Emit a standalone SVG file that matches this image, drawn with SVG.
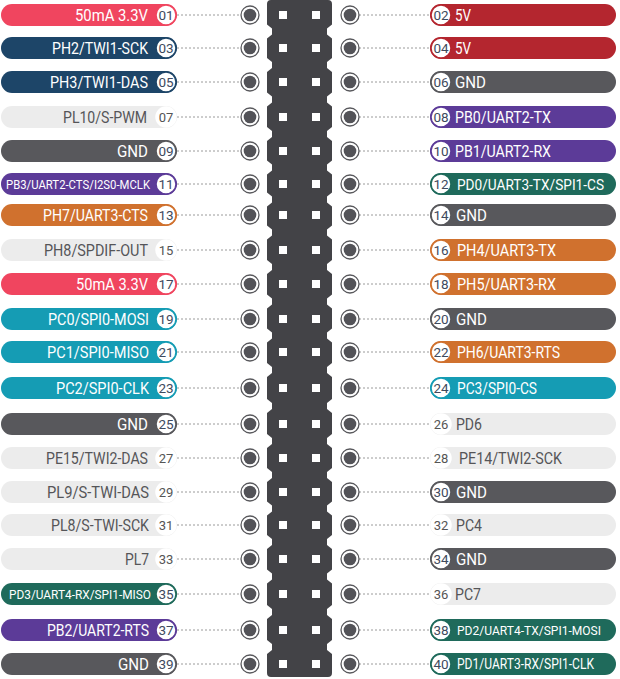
<svg xmlns="http://www.w3.org/2000/svg" width="620" height="679" viewBox="0 0 620 679">
<style>
.bg{fill:#ffffff}
.pill{stroke:none}
.pk{fill:#f0455f}.nv{fill:#1d4568}.lg{fill:#ececec}.dg{fill:#58585c}.pu{fill:#5c3b98}.or{fill:#d0712e}.te{fill:#159cb4}.gr{fill:#1f6a5b}.rd{fill:#b4262f}
.num{fill:#ffffff;stroke-width:1.5}
.spk{stroke:#f0455f}.snv{stroke:#1d4568}.slg{stroke:#ffffff}.sdg{stroke:#58585c}.spu{stroke:#5c3b98}.sor{stroke:#d0712e}.ste{stroke:#159cb4}.sgr{stroke:#1f6a5b}.srd{stroke:#b4262f}
.nt{font-family:Roboto,"Liberation Sans",sans-serif;font-size:13.5px;fill:#3e4a5e;text-anchor:middle}
.ntl{font-family:Roboto,"Liberation Sans",sans-serif;font-size:13px;fill:#555555;text-anchor:middle}
.lbl{font-family:Roboto,"Liberation Sans",sans-serif;font-size:16px;fill:#ffffff}
.sm{font-size:12.5px}
.dk{fill:#555558}
.l{text-anchor:end}
.r{text-anchor:start}
.po{fill:#ffffff;stroke:#58585c;stroke-width:1.3}
.pi{fill:#535358}
.hdr{fill:#434347}
.sq{fill:#ffffff}
.cn{stroke:#9a9a9a;stroke-width:1;stroke-dasharray:2 2;fill:none}
</style>
<rect class="bg" x="0" y="0" width="620" height="679"/>

<g id="header">
<path class="hdr" d="M271 0 H328 Q332 0 332 4
L332 24.5 L327 28.5 L327 34.5 L332 38.5
L332 58 L327 62 L327 68 L332 72
L332 92.5 L327 96.5 L327 102.5 L332 106.5
L332 127 L327 131 L327 137 L332 141
L332 160.5 L327 164.5 L327 170.5 L332 174.5
L332 192.5 L327 196.5 L327 202.5 L332 206.5
L332 225.5 L327 229.5 L327 235.5 L332 239.5
L332 260 L327 264 L327 270 L332 274
L332 294.5 L327 298.5 L327 304.5 L332 308.5
L332 328.5 L327 332.5 L327 338.5 L332 342.5
L332 363 L327 367 L327 373 L332 377
L332 399 L327 403 L327 409 L332 413
L332 434 L327 438 L327 444 L332 448
L332 468 L327 472 L327 478 L332 482
L332 501.5 L327 505.5 L327 511.5 L332 515.5
L332 535 L327 539 L327 545 L332 549
L332 569.5 L327 573.5 L327 579.5 L332 583.5
L332 605 L327 609 L327 615 L332 619
L332 640 L327 644 L327 650 L332 654
L332 673 Q332 677 328 677 H271 Q267 677 267 673
L267 654 L272 650 L272 644 L267 640
L267 619 L272 615 L272 609 L267 605
L267 583.5 L272 579.5 L272 573.5 L267 569.5
L267 549 L272 545 L272 539 L267 535
L267 515.5 L272 511.5 L272 505.5 L267 501.5
L267 482 L272 478 L272 472 L267 468
L267 448 L272 444 L272 438 L267 434
L267 413 L272 409 L272 403 L267 399
L267 377 L272 373 L272 367 L267 363
L267 342.5 L272 338.5 L272 332.5 L267 328.5
L267 308.5 L272 304.5 L272 298.5 L267 294.5
L267 274 L272 270 L272 264 L267 260
L267 239.5 L272 235.5 L272 229.5 L267 225.5
L267 206.5 L272 202.5 L272 196.5 L267 192.5
L267 174.5 L272 170.5 L272 164.5 L267 160.5
L267 141 L272 137 L272 131 L267 127
L267 106.5 L272 102.5 L272 96.5 L267 92.5
L267 72 L272 68 L272 62 L267 58
L267 38.5 L272 34.5 L272 28.5 L267 24.5
L267 4 Q267 0 271 0 Z"/>
<g class="sq">
<rect x="279" y="11" width="8" height="8"/><rect x="312" y="11" width="8" height="8"/>
<rect x="279" y="44" width="8" height="8"/><rect x="312" y="44" width="8" height="8"/>
<rect x="279" y="78" width="8" height="8"/><rect x="312" y="78" width="8" height="8"/>
<rect x="279" y="113" width="8" height="8"/><rect x="312" y="113" width="8" height="8"/>
<rect x="279" y="147" width="8" height="8"/><rect x="312" y="147" width="8" height="8"/>
<rect x="279" y="180" width="8" height="8"/><rect x="312" y="180" width="8" height="8"/>
<rect x="279" y="211" width="8" height="8"/><rect x="312" y="211" width="8" height="8"/>
<rect x="279" y="246" width="8" height="8"/><rect x="312" y="246" width="8" height="8"/>
<rect x="279" y="280" width="8" height="8"/><rect x="312" y="280" width="8" height="8"/>
<rect x="279" y="315" width="8" height="8"/><rect x="312" y="315" width="8" height="8"/>
<rect x="279" y="348" width="8" height="8"/><rect x="312" y="348" width="8" height="8"/>
<rect x="279" y="384" width="8" height="8"/><rect x="312" y="384" width="8" height="8"/>
<rect x="279" y="420" width="8" height="8"/><rect x="312" y="420" width="8" height="8"/>
<rect x="279" y="454" width="8" height="8"/><rect x="312" y="454" width="8" height="8"/>
<rect x="279" y="488" width="8" height="8"/><rect x="312" y="488" width="8" height="8"/>
<rect x="279" y="521" width="8" height="8"/><rect x="312" y="521" width="8" height="8"/>
<rect x="279" y="555" width="8" height="8"/><rect x="312" y="555" width="8" height="8"/>
<rect x="279" y="590" width="8" height="8"/><rect x="312" y="590" width="8" height="8"/>
<rect x="279" y="626" width="8" height="8"/><rect x="312" y="626" width="8" height="8"/>
<rect x="279" y="660" width="8" height="8"/><rect x="312" y="660" width="8" height="8"/>
</g>
</g>

<g id="connectors">
<path class="cn" d="M177 15H241M359 15H430M177 48H241M359 48H430M177 82H241M359 82H430M177 117H241M359 117H430M177 151H241M359 151H430M177 184H241M359 184H430M177 215H241M359 215H430M177 250H241M359 250H430M177 284H241M359 284H430M177 319H241M359 319H430M177 352H241M359 352H430M177 388H241M359 388H430M177 424H241M359 424H430M177 458H241M359 458H430M177 492H241M359 492H430M177 525H241M359 525H430M177 559H241M359 559H430M177 594H241M359 594H430M177 630H241M359 630H430M177 664H241M359 664H430"/>
</g>

<!-- LEFT -->
<g id="pin01"><rect class="pill pk" x="1" y="4" width="176" height="22" rx="11"/><circle class="num spk" cx="166" cy="15" r="10"/><text class="nt" x="166" y="19.7">01</text><text class="lbl l" x="148" y="20.7" textLength="73" lengthAdjust="spacingAndGlyphs">50mA 3.3V</text><circle class="po" cx="250" cy="15" r="9"/><circle class="pi" cx="250" cy="15" r="6.3"/></g>
<g id="pin03"><rect class="pill nv" x="1" y="37" width="176" height="22" rx="11"/><circle class="num snv" cx="166" cy="48" r="10"/><text class="nt" x="166" y="52.7">03</text><text class="lbl l" x="148" y="53.7" textLength="96" lengthAdjust="spacingAndGlyphs">PH2/TWI1-SCK</text><circle class="po" cx="250" cy="48" r="9"/><circle class="pi" cx="250" cy="48" r="6.3"/></g>
<g id="pin05"><rect class="pill nv" x="1" y="71" width="176" height="22" rx="11"/><circle class="num snv" cx="166" cy="82" r="10"/><text class="nt" x="166" y="86.7">05</text><text class="lbl l" x="148" y="87.7" textLength="98" lengthAdjust="spacingAndGlyphs">PH3/TWI1-DAS</text><circle class="po" cx="250" cy="82" r="9"/><circle class="pi" cx="250" cy="82" r="6.3"/></g>
<g id="pin07"><rect class="pill lg" x="1" y="106" width="176" height="22" rx="11"/><circle class="num slg" cx="166" cy="117" r="10"/><text class="ntl" x="166" y="121.5">07</text><text class="lbl l dk" x="147" y="122.7" textLength="84" lengthAdjust="spacingAndGlyphs">PL10/S-PWM</text><circle class="po" cx="250" cy="117" r="9"/><circle class="pi" cx="250" cy="117" r="6.3"/></g>
<g id="pin09"><rect class="pill dg" x="1" y="140" width="176" height="22" rx="11"/><circle class="num sdg" cx="166" cy="151" r="10"/><text class="nt" x="166" y="155.7">09</text><text class="lbl l" x="148" y="156.7" textLength="31" lengthAdjust="spacingAndGlyphs">GND</text><circle class="po" cx="250" cy="151" r="9"/><circle class="pi" cx="250" cy="151" r="6.3"/></g>
<g id="pin11"><rect class="pill pu" x="1" y="173" width="176" height="22" rx="11"/><circle class="num spu" cx="166" cy="184" r="10"/><text class="nt" x="166" y="188.7">11</text><text class="lbl sm l" x="150" y="188.5" textLength="144" lengthAdjust="spacingAndGlyphs">PB3/UART2-CTS/I2S0-MCLK</text><circle class="po" cx="250" cy="184" r="9"/><circle class="pi" cx="250" cy="184" r="6.3"/></g>
<g id="pin13"><rect class="pill or" x="1" y="204" width="176" height="22" rx="11"/><circle class="num sor" cx="166" cy="215" r="10"/><text class="nt" x="166" y="219.7">13</text><text class="lbl l" x="148" y="220.7" textLength="105" lengthAdjust="spacingAndGlyphs">PH7/UART3-CTS</text><circle class="po" cx="250" cy="215" r="9"/><circle class="pi" cx="250" cy="215" r="6.3"/></g>
<g id="pin15"><rect class="pill lg" x="1" y="239" width="176" height="22" rx="11"/><circle class="num slg" cx="166" cy="250" r="10"/><text class="ntl" x="166" y="254.5">15</text><text class="lbl l dk" x="148" y="255.7" textLength="104" lengthAdjust="spacingAndGlyphs">PH8/SPDIF-OUT</text><circle class="po" cx="250" cy="250" r="9"/><circle class="pi" cx="250" cy="250" r="6.3"/></g>
<g id="pin17"><rect class="pill pk" x="1" y="273" width="176" height="22" rx="11"/><circle class="num spk" cx="166" cy="284" r="10"/><text class="nt" x="166" y="288.7">17</text><text class="lbl l" x="148" y="289.7" textLength="72" lengthAdjust="spacingAndGlyphs">50mA 3.3V</text><circle class="po" cx="250" cy="284" r="9"/><circle class="pi" cx="250" cy="284" r="6.3"/></g>
<g id="pin19"><rect class="pill te" x="1" y="308" width="176" height="22" rx="11"/><circle class="num ste" cx="166" cy="319" r="10"/><text class="nt" x="166" y="323.7">19</text><text class="lbl l" x="149" y="324.7" textLength="101" lengthAdjust="spacingAndGlyphs">PC0/SPI0-MOSI</text><circle class="po" cx="250" cy="319" r="9"/><circle class="pi" cx="250" cy="319" r="6.3"/></g>
<g id="pin21"><rect class="pill te" x="1" y="341" width="176" height="22" rx="11"/><circle class="num ste" cx="166" cy="352" r="10"/><text class="nt" x="166" y="356.7">21</text><text class="lbl l" x="149" y="357.7" textLength="102" lengthAdjust="spacingAndGlyphs">PC1/SPI0-MISO</text><circle class="po" cx="250" cy="352" r="9"/><circle class="pi" cx="250" cy="352" r="6.3"/></g>
<g id="pin23"><rect class="pill te" x="1" y="377" width="176" height="22" rx="11"/><circle class="num ste" cx="166" cy="388" r="10"/><text class="nt" x="166" y="392.7">23</text><text class="lbl l" x="149" y="393.7" textLength="93" lengthAdjust="spacingAndGlyphs">PC2/SPI0-CLK</text><circle class="po" cx="250" cy="388" r="9"/><circle class="pi" cx="250" cy="388" r="6.3"/></g>
<g id="pin25"><rect class="pill dg" x="1" y="413" width="176" height="22" rx="11"/><circle class="num sdg" cx="166" cy="424" r="10"/><text class="nt" x="166" y="428.7">25</text><text class="lbl l" x="148" y="429.7" textLength="31" lengthAdjust="spacingAndGlyphs">GND</text><circle class="po" cx="250" cy="424" r="9"/><circle class="pi" cx="250" cy="424" r="6.3"/></g>
<g id="pin27"><rect class="pill lg" x="1" y="447" width="176" height="22" rx="11"/><circle class="num slg" cx="166" cy="458" r="10"/><text class="ntl" x="166" y="462.5">27</text><text class="lbl l dk" x="148" y="463.7" textLength="102" lengthAdjust="spacingAndGlyphs">PE15/TWI2-DAS</text><circle class="po" cx="250" cy="458" r="9"/><circle class="pi" cx="250" cy="458" r="6.3"/></g>
<g id="pin29"><rect class="pill lg" x="1" y="481" width="176" height="22" rx="11"/><circle class="num slg" cx="166" cy="492" r="10"/><text class="ntl" x="166" y="496.5">29</text><text class="lbl l dk" x="149" y="497.7" textLength="102" lengthAdjust="spacingAndGlyphs">PL9/S-TWI-DAS</text><circle class="po" cx="250" cy="492" r="9"/><circle class="pi" cx="250" cy="492" r="6.3"/></g>
<g id="pin31"><rect class="pill lg" x="1" y="514" width="176" height="22" rx="11"/><circle class="num slg" cx="166" cy="525" r="10"/><text class="ntl" x="166" y="529.5">31</text><text class="lbl l dk" x="149" y="530.7" textLength="98" lengthAdjust="spacingAndGlyphs">PL8/S-TWI-SCK</text><circle class="po" cx="250" cy="525" r="9"/><circle class="pi" cx="250" cy="525" r="6.3"/></g>
<g id="pin33"><rect class="pill lg" x="1" y="548" width="176" height="22" rx="11"/><circle class="num slg" cx="166" cy="559" r="10"/><text class="ntl" x="166" y="563.5">33</text><text class="lbl l dk" x="149" y="564.7" textLength="24" lengthAdjust="spacingAndGlyphs">PL7</text><circle class="po" cx="250" cy="559" r="9"/><circle class="pi" cx="250" cy="559" r="6.3"/></g>
<g id="pin35"><rect class="pill gr" x="1" y="583" width="176" height="22" rx="11"/><circle class="num sgr" cx="166" cy="594" r="10"/><text class="nt" x="166" y="598.7">35</text><text class="lbl sm l" x="151" y="598.5" textLength="142" lengthAdjust="spacingAndGlyphs">PD3/UART4-RX/SPI1-MISO</text><circle class="po" cx="250" cy="594" r="9"/><circle class="pi" cx="250" cy="594" r="6.3"/></g>
<g id="pin37"><rect class="pill pu" x="1" y="619" width="176" height="22" rx="11"/><circle class="num spu" cx="166" cy="630" r="10"/><text class="nt" x="166" y="634.7">37</text><text class="lbl l" x="149" y="635.7" textLength="102" lengthAdjust="spacingAndGlyphs">PB2/UART2-RTS</text><circle class="po" cx="250" cy="630" r="9"/><circle class="pi" cx="250" cy="630" r="6.3"/></g>
<g id="pin39"><rect class="pill dg" x="1" y="653" width="176" height="22" rx="11"/><circle class="num sdg" cx="166" cy="664" r="10"/><text class="nt" x="166" y="668.7">39</text><text class="lbl l" x="149" y="669.7" textLength="31" lengthAdjust="spacingAndGlyphs">GND</text><circle class="po" cx="250" cy="664" r="9"/><circle class="pi" cx="250" cy="664" r="6.3"/></g>

<!-- RIGHT -->
<g id="pin02"><rect class="pill rd" x="430" y="4" width="186" height="22" rx="11"/><circle class="num srd" cx="441" cy="15" r="10"/><text class="nt" x="441" y="19.7">02</text><text class="lbl r" x="455" y="20.7" textLength="16" lengthAdjust="spacingAndGlyphs">5V</text><circle class="po" cx="350" cy="15" r="9"/><circle class="pi" cx="350" cy="15" r="6.3"/></g>
<g id="pin04"><rect class="pill rd" x="430" y="37" width="186" height="22" rx="11"/><circle class="num srd" cx="441" cy="48" r="10"/><text class="nt" x="441" y="52.7">04</text><text class="lbl r" x="455" y="53.7" textLength="16" lengthAdjust="spacingAndGlyphs">5V</text><circle class="po" cx="350" cy="48" r="9"/><circle class="pi" cx="350" cy="48" r="6.3"/></g>
<g id="pin06"><rect class="pill dg" x="430" y="71" width="186" height="22" rx="11"/><circle class="num sdg" cx="441" cy="82" r="10"/><text class="nt" x="441" y="86.7">06</text><text class="lbl r" x="455" y="87.7" textLength="31" lengthAdjust="spacingAndGlyphs">GND</text><circle class="po" cx="350" cy="82" r="9"/><circle class="pi" cx="350" cy="82" r="6.3"/></g>
<g id="pin08"><rect class="pill pu" x="430" y="106" width="186" height="22" rx="11"/><circle class="num spu" cx="441" cy="117" r="10"/><text class="nt" x="441" y="121.7">08</text><text class="lbl r" x="455" y="122.7" textLength="96" lengthAdjust="spacingAndGlyphs">PB0/UART2-TX</text><circle class="po" cx="350" cy="117" r="9"/><circle class="pi" cx="350" cy="117" r="6.3"/></g>
<g id="pin10"><rect class="pill pu" x="430" y="140" width="186" height="22" rx="11"/><circle class="num spu" cx="441" cy="151" r="10"/><text class="nt" x="441" y="155.7">10</text><text class="lbl r" x="455" y="156.7" textLength="96" lengthAdjust="spacingAndGlyphs">PB1/UART2-RX</text><circle class="po" cx="350" cy="151" r="9"/><circle class="pi" cx="350" cy="151" r="6.3"/></g>
<g id="pin12"><rect class="pill gr" x="430" y="173" width="186" height="22" rx="11"/><circle class="num sgr" cx="441" cy="184" r="10"/><text class="nt" x="441" y="188.7">12</text><text class="lbl r" x="457" y="189.5" style="font-size:15.5px" textLength="147" lengthAdjust="spacingAndGlyphs">PD0/UART3-TX/SPI1-CS</text><circle class="po" cx="350" cy="184" r="9"/><circle class="pi" cx="350" cy="184" r="6.3"/></g>
<g id="pin14"><rect class="pill dg" x="430" y="204" width="186" height="22" rx="11"/><circle class="num sdg" cx="441" cy="215" r="10"/><text class="nt" x="441" y="219.7">14</text><text class="lbl r" x="456" y="220.7" textLength="31" lengthAdjust="spacingAndGlyphs">GND</text><circle class="po" cx="350" cy="215" r="9"/><circle class="pi" cx="350" cy="215" r="6.3"/></g>
<g id="pin16"><rect class="pill or" x="430" y="239" width="186" height="22" rx="11"/><circle class="num sor" cx="441" cy="250" r="10"/><text class="nt" x="441" y="254.7">16</text><text class="lbl r" x="457" y="255.7" textLength="99" lengthAdjust="spacingAndGlyphs">PH4/UART3-TX</text><circle class="po" cx="350" cy="250" r="9"/><circle class="pi" cx="350" cy="250" r="6.3"/></g>
<g id="pin18"><rect class="pill or" x="430" y="273" width="186" height="22" rx="11"/><circle class="num sor" cx="441" cy="284" r="10"/><text class="nt" x="441" y="288.7">18</text><text class="lbl r" x="457" y="289.7" textLength="99" lengthAdjust="spacingAndGlyphs">PH5/UART3-RX</text><circle class="po" cx="350" cy="284" r="9"/><circle class="pi" cx="350" cy="284" r="6.3"/></g>
<g id="pin20"><rect class="pill dg" x="430" y="308" width="186" height="22" rx="11"/><circle class="num sdg" cx="441" cy="319" r="10"/><text class="nt" x="441" y="323.7">20</text><text class="lbl r" x="456" y="324.7" textLength="31" lengthAdjust="spacingAndGlyphs">GND</text><circle class="po" cx="350" cy="319" r="9"/><circle class="pi" cx="350" cy="319" r="6.3"/></g>
<g id="pin22"><rect class="pill or" x="430" y="341" width="186" height="22" rx="11"/><circle class="num sor" cx="441" cy="352" r="10"/><text class="nt" x="441" y="356.7">22</text><text class="lbl r" x="457" y="357.7" textLength="103" lengthAdjust="spacingAndGlyphs">PH6/UART3-RTS</text><circle class="po" cx="350" cy="352" r="9"/><circle class="pi" cx="350" cy="352" r="6.3"/></g>
<g id="pin24"><rect class="pill te" x="430" y="377" width="186" height="22" rx="11"/><circle class="num ste" cx="441" cy="388" r="10"/><text class="nt" x="441" y="392.7">24</text><text class="lbl r" x="457" y="393.7" textLength="80" lengthAdjust="spacingAndGlyphs">PC3/SPI0-CS</text><circle class="po" cx="350" cy="388" r="9"/><circle class="pi" cx="350" cy="388" r="6.3"/></g>
<g id="pin26"><rect class="pill lg" x="430" y="413" width="186" height="22" rx="11"/><circle class="num slg" cx="441" cy="424" r="10"/><text class="ntl" x="441" y="428.5">26</text><text class="lbl r dk" x="456" y="429.7" textLength="26" lengthAdjust="spacingAndGlyphs">PD6</text><circle class="po" cx="350" cy="424" r="9"/><circle class="pi" cx="350" cy="424" r="6.3"/></g>
<g id="pin28"><rect class="pill lg" x="430" y="447" width="186" height="22" rx="11"/><circle class="num slg" cx="441" cy="458" r="10"/><text class="ntl" x="441" y="462.5">28</text><text class="lbl r dk" x="459" y="463.7" textLength="103" lengthAdjust="spacingAndGlyphs">PE14/TWI2-SCK</text><circle class="po" cx="350" cy="458" r="9"/><circle class="pi" cx="350" cy="458" r="6.3"/></g>
<g id="pin30"><rect class="pill dg" x="430" y="481" width="186" height="22" rx="11"/><circle class="num sdg" cx="441" cy="492" r="10"/><text class="nt" x="441" y="496.7">30</text><text class="lbl r" x="456" y="497.7" textLength="31" lengthAdjust="spacingAndGlyphs">GND</text><circle class="po" cx="350" cy="492" r="9"/><circle class="pi" cx="350" cy="492" r="6.3"/></g>
<g id="pin32"><rect class="pill lg" x="430" y="514" width="186" height="22" rx="11"/><circle class="num slg" cx="441" cy="525" r="10"/><text class="ntl" x="441" y="529.5">32</text><text class="lbl r dk" x="456" y="530.7" textLength="26" lengthAdjust="spacingAndGlyphs">PC4</text><circle class="po" cx="350" cy="525" r="9"/><circle class="pi" cx="350" cy="525" r="6.3"/></g>
<g id="pin34"><rect class="pill dg" x="430" y="548" width="186" height="22" rx="11"/><circle class="num sdg" cx="441" cy="559" r="10"/><text class="nt" x="441" y="563.7">34</text><text class="lbl r" x="456" y="564.7" textLength="31" lengthAdjust="spacingAndGlyphs">GND</text><circle class="po" cx="350" cy="559" r="9"/><circle class="pi" cx="350" cy="559" r="6.3"/></g>
<g id="pin36"><rect class="pill lg" x="430" y="583" width="186" height="22" rx="11"/><circle class="num slg" cx="441" cy="594" r="10"/><text class="ntl" x="441" y="598.5">36</text><text class="lbl r dk" x="455" y="599.7" textLength="26" lengthAdjust="spacingAndGlyphs">PC7</text><circle class="po" cx="350" cy="594" r="9"/><circle class="pi" cx="350" cy="594" r="6.3"/></g>
<g id="pin38"><rect class="pill gr" x="430" y="619" width="186" height="22" rx="11"/><circle class="num sgr" cx="441" cy="630" r="10"/><text class="nt" x="441" y="634.7">38</text><text class="lbl sm r" x="457" y="634.5" textLength="144" lengthAdjust="spacingAndGlyphs">PD2/UART4-TX/SPI1-MOSI</text><circle class="po" cx="350" cy="630" r="9"/><circle class="pi" cx="350" cy="630" r="6.3"/></g>
<g id="pin40"><rect class="pill gr" x="430" y="653" width="186" height="22" rx="11"/><circle class="num sgr" cx="441" cy="664" r="10"/><text class="nt" x="441" y="668.7">40</text><text class="lbl r" x="457" y="669" style="font-size:14px" textLength="137" lengthAdjust="spacingAndGlyphs">PD1/UART3-RX/SPI1-CLK</text><circle class="po" cx="350" cy="664" r="9"/><circle class="pi" cx="350" cy="664" r="6.3"/></g>
</svg>
